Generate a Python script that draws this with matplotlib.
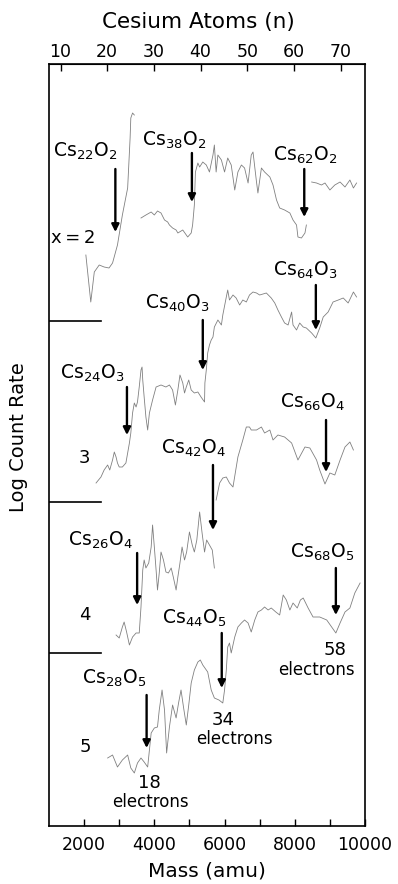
# -*- coding: utf-8 -*-
''' Cs_nO_x cluster mass spectra, stacked traces for x = 2..5 '''

import matplotlib
matplotlib.use('Agg')
import matplotlib.pyplot as plt

# ---- data (mass in amu, log rate in arb. units) ----
# x = 2
mass_x2a = [2050, 2190, 2290, 2430, 2570, 2710, 2810, 2950, 3090, 3240, 3310, 3330, 3380, 3430]
rate_x2a = [571, 524, 554, 561, 559, 558, 563, 581, 611, 638, 688, 708, 713, 711]
mass_x2b = [3620, 3760, 3910, 4000, 4090, 4190, 4290, 4380, 4430, 4520, 4620, 4670, 4810, 4950,
            5050, 5090, 5140, 5170, 5240, 5290, 5380, 5480, 5570, 5670, 5710, 5760, 5810, 5910,
            6000, 6090, 6190, 6290, 6380, 6480, 6570, 6670, 6760, 6810, 6910, 6950, 7050, 7140,
            7290, 7380, 7480, 7570, 7710, 7860, 7950, 8050, 8090, 8190, 8290, 8330]
rate_x2b = [608, 611, 614, 611, 615, 613, 606, 604, 601, 598, 596, 593, 596, 589,
            593, 601, 621, 654, 663, 659, 664, 661, 654, 671, 681, 654, 671, 666,
            654, 668, 661, 636, 654, 661, 658, 643, 671, 674, 644, 633, 658, 654,
            649, 641, 626, 618, 616, 613, 606, 601, 589, 588, 593, 601]
mass_x2c = [8480, 8620, 8760, 8860, 9000, 9140, 9290, 9430, 9570, 9670, 9760]
rate_x2c = [644, 643, 641, 643, 636, 641, 644, 639, 646, 638, 643]

# x = 3
mass_x3 = [2340, 2480, 2570, 2670, 2730, 2810, 2860, 2910, 2950, 3000, 3090, 3190, 3290, 3330,
           3380, 3430, 3480, 3520, 3570, 3620, 3650, 3670, 3710, 3760, 3810, 3860, 3950, 4050,
           4190, 4330, 4430, 4520, 4600, 4670, 4730, 4810, 4860, 4910, 4980, 5050, 5140, 5240,
           5330, 5430, 5440, 5480, 5520, 5570, 5620, 5670, 5710, 5810, 5910, 5950, 6050, 6090,
           6140, 6240, 6330, 6430, 6520, 6620, 6710, 6810, 6910, 7000, 7190, 7330, 7430, 7520,
           7620, 7710, 7810, 7910, 7950, 8050, 8140, 8240, 8330, 8480, 8600, 8710, 8810, 8950,
           9090, 9240, 9380, 9520, 9670, 9760]
rate_x3 = [343, 349, 356, 361, 356, 366, 374, 369, 363, 359, 359, 363, 383, 393,
           413, 423, 419, 424, 439, 456, 459, 446, 429, 409, 396, 413, 426, 439,
           441, 439, 441, 436, 421, 436, 451, 443, 433, 439, 446, 436, 433, 434,
           429, 424, 443, 456, 473, 481, 486, 489, 499, 506, 501, 511, 529, 536,
           526, 531, 528, 521, 526, 524, 531, 534, 533, 531, 533, 528, 523, 516,
           509, 503, 501, 514, 501, 496, 503, 499, 498, 493, 488, 498, 509, 514,
           524, 526, 528, 523, 534, 529]

# x = 4
mass_x4a = [2910, 3000, 3090, 3140, 3210, 3290, 3380, 3480, 3570, 3620, 3670, 3710, 3760, 3840,
            3910, 3950, 4000, 4050, 4090, 4140, 4190, 4260, 4330, 4400, 4480, 4540, 4620, 4670,
            4730, 4790, 4860, 4920, 5000, 5080, 5140, 5210, 5290, 5360, 5430, 5490, 5570, 5650,
            5710]
rate_x4a = [191, 188, 199, 204, 194, 181, 189, 193, 193, 219, 256, 266, 258, 263,
            279, 301, 279, 256, 236, 253, 274, 266, 254, 253, 258, 249, 236, 249,
            263, 279, 266, 274, 294, 281, 274, 286, 314, 293, 274, 286, 281, 276,
            258]
mass_x4b = [5760, 5860, 5950, 6050, 6140, 6240, 6380, 6520, 6620, 6710, 6760, 6910, 7050, 7140,
            7290, 7380, 7520, 7710, 7910, 8090, 8290, 8430, 8620, 8710, 8860, 9000, 9140, 9290,
            9430, 9570, 9670]
rate_x4b = [326, 343, 348, 349, 343, 339, 369, 386, 399, 399, 396, 396, 399, 393,
            396, 386, 391, 389, 383, 366, 379, 378, 366, 356, 342, 353, 351, 366,
            379, 384, 376]

# x = 5
mass_x5 = [2670, 2810, 2950, 3090, 3240, 3330, 3430, 3520, 3620, 3710, 3810, 3910, 4000, 4090,
           4140, 4220, 4290, 4350, 4430, 4520, 4620, 4690, 4760, 4830, 4910, 4980, 5050, 5140,
           5240, 5310, 5380, 5520, 5620, 5710, 5840, 5950, 6000, 6050, 6090, 6140, 6190, 6290,
           6380, 6480, 6570, 6670, 6760, 6860, 6950, 7050, 7140, 7240, 7330, 7460, 7570, 7670,
           7760, 7860, 7950, 8070, 8160, 8240, 8380, 8520, 8710, 8910, 9050, 9170, 9290, 9430,
           9570, 9710, 9860]
rate_x5 = [68, 71, 59, 66, 71, 58, 53, 63, 68, 64, 59, 93, 98, 99,
           116, 136, 116, 73, 99, 121, 108, 123, 136, 119, 101, 121, 143, 156,
           164, 166, 161, 154, 136, 128, 126, 123, 136, 156, 179, 183, 173, 189,
           199, 203, 206, 203, 194, 206, 214, 216, 219, 216, 218, 214, 211, 231,
           226, 216, 223, 218, 226, 228, 218, 209, 209, 206, 199, 193, 203, 214,
           218, 233, 243]

# arrows marking the cluster peaks: label, label position, arrow x, arrow top, arrow tip
arrow_labels = [r'$\mathrm{Cs_{22}O_2}$', r'$\mathrm{Cs_{38}O_2}$', r'$\mathrm{Cs_{62}O_2}$',
                r'$\mathrm{Cs_{64}O_3}$', r'$\mathrm{Cs_{40}O_3}$', r'$\mathrm{Cs_{24}O_3}$',
                r'$\mathrm{Cs_{66}O_4}$', r'$\mathrm{Cs_{42}O_4}$', r'$\mathrm{Cs_{26}O_4}$',
                r'$\mathrm{Cs_{68}O_5}$', r'$\mathrm{Cs_{44}O_5}$', r'$\mathrm{Cs_{28}O_5}$']
label_mass = [2030, 4570, 8290, 8310, 4660, 2230, 8510, 5110, 2460, 8770, 5130, 2860]
label_rate = [675, 686, 671, 556, 523, 453, 424, 378, 286, 274, 208, 148]
arrow_mass = [2890, 5070, 8270, 8600, 5380, 3220, 8890, 5670, 3510, 9170, 5920, 3780]
arrow_top = [657, 673, 657, 541, 506, 439, 406, 361, 273, 258, 193, 131]
arrow_tip = [594, 624, 609, 496, 456, 391, 354, 296, 221, 211, 138, 78]

# oxygen count labels and separators between traces
x_labels = ['x\u2009=\u20092', '3', '4', '5']
x_label_mass = [1680, 2000, 2030, 2030]
x_label_rate = [588, 368, 211, 79]
separator_rate = [505, 324, 173]
separator_end = 2480

# electron shell annotations
shell_numbers = ['58', '34', '18']
shell_mass = [9140, 5950, 3860]
shell_rate = [176, 106, 43]
shell_word_mass = [8620, 6290, 3880]
shell_word_rate = [156, 87, 24]

CS_MASS = 132.9


def main():
    ''' draw the figure '''
    fig = plt.figure(figsize=(3.98, 8.84), dpi=100)
    ax = fig.add_axes([49 / 398, 58 / 884, 316 / 398, 762 / 884])

    trace_kw = dict(color='0.5', lw=0.6)
    for m, r in [(mass_x2a, rate_x2a), (mass_x2b, rate_x2b), (mass_x2c, rate_x2c),
                 (mass_x3, rate_x3), (mass_x4a, rate_x4a), (mass_x4b, rate_x4b),
                 (mass_x5, rate_x5)]:
        ax.plot(m, r, **trace_kw)

    for lab, lm, lr, am, at, tip in zip(arrow_labels, label_mass, label_rate,
                                        arrow_mass, arrow_top, arrow_tip):
        ax.annotate('', xy=(am, tip), xytext=(am, at),
                    arrowprops=dict(arrowstyle='-|>', color='k', lw=1.7,
                                    mutation_scale=11, shrinkA=0, shrinkB=0))
        ax.text(lm, lr, lab, ha='center', va='center', fontsize=13.5)

    for lab, m, r in zip(x_labels, x_label_mass, x_label_rate):
        ax.text(m, r, lab, ha='center', va='center', fontsize=13)

    for r in separator_rate:
        ax.plot([1000, separator_end], [r, r], color='k', lw=1.2)

    for num, m, r, wm, wr in zip(shell_numbers, shell_mass, shell_rate,
                                 shell_word_mass, shell_word_rate):
        ax.text(m, r, num, ha='center', va='center', fontsize=13)
        ax.text(wm, wr, 'electrons', ha='center', va='center', fontsize=12)

    ax.set_xlim(1000, 10000)
    ax.set_ylim(0, 762)
    ax.set_yticks([])
    ax.set_xticks([2000, 4000, 6000, 8000, 10000])
    ax.set_xticks([3000, 5000, 7000, 9000], minor=True)
    ax.tick_params(axis='x', which='both', direction='in', length=5, width=1,
                   labelsize=12.5, pad=7)
    for s in ax.spines.values():
        s.set_linewidth(1.2)

    ax.set_xlabel('Mass (amu)', fontsize=14.5)
    ax.xaxis.set_label_coords(0.5, -0.047)
    ax.set_ylabel('Log Count Rate', fontsize=14)
    ax.yaxis.set_label_coords(-0.065, 0.51)

    top = ax.secondary_xaxis('top', functions=(lambda m: m / CS_MASS,
                                               lambda n: n * CS_MASS))
    top.set_xticks([10, 20, 30, 40, 50, 60, 70])
    top.tick_params(direction='in', length=5, width=1, labelsize=12.5, pad=2)
    fig.text(198 / 398, 1 - 22 / 884, 'Cesium Atoms (n)', ha='center', va='center',
             fontsize=15.5)

    fig.savefig('out.png', dpi=100)


if __name__ == '__main__':
    main()
